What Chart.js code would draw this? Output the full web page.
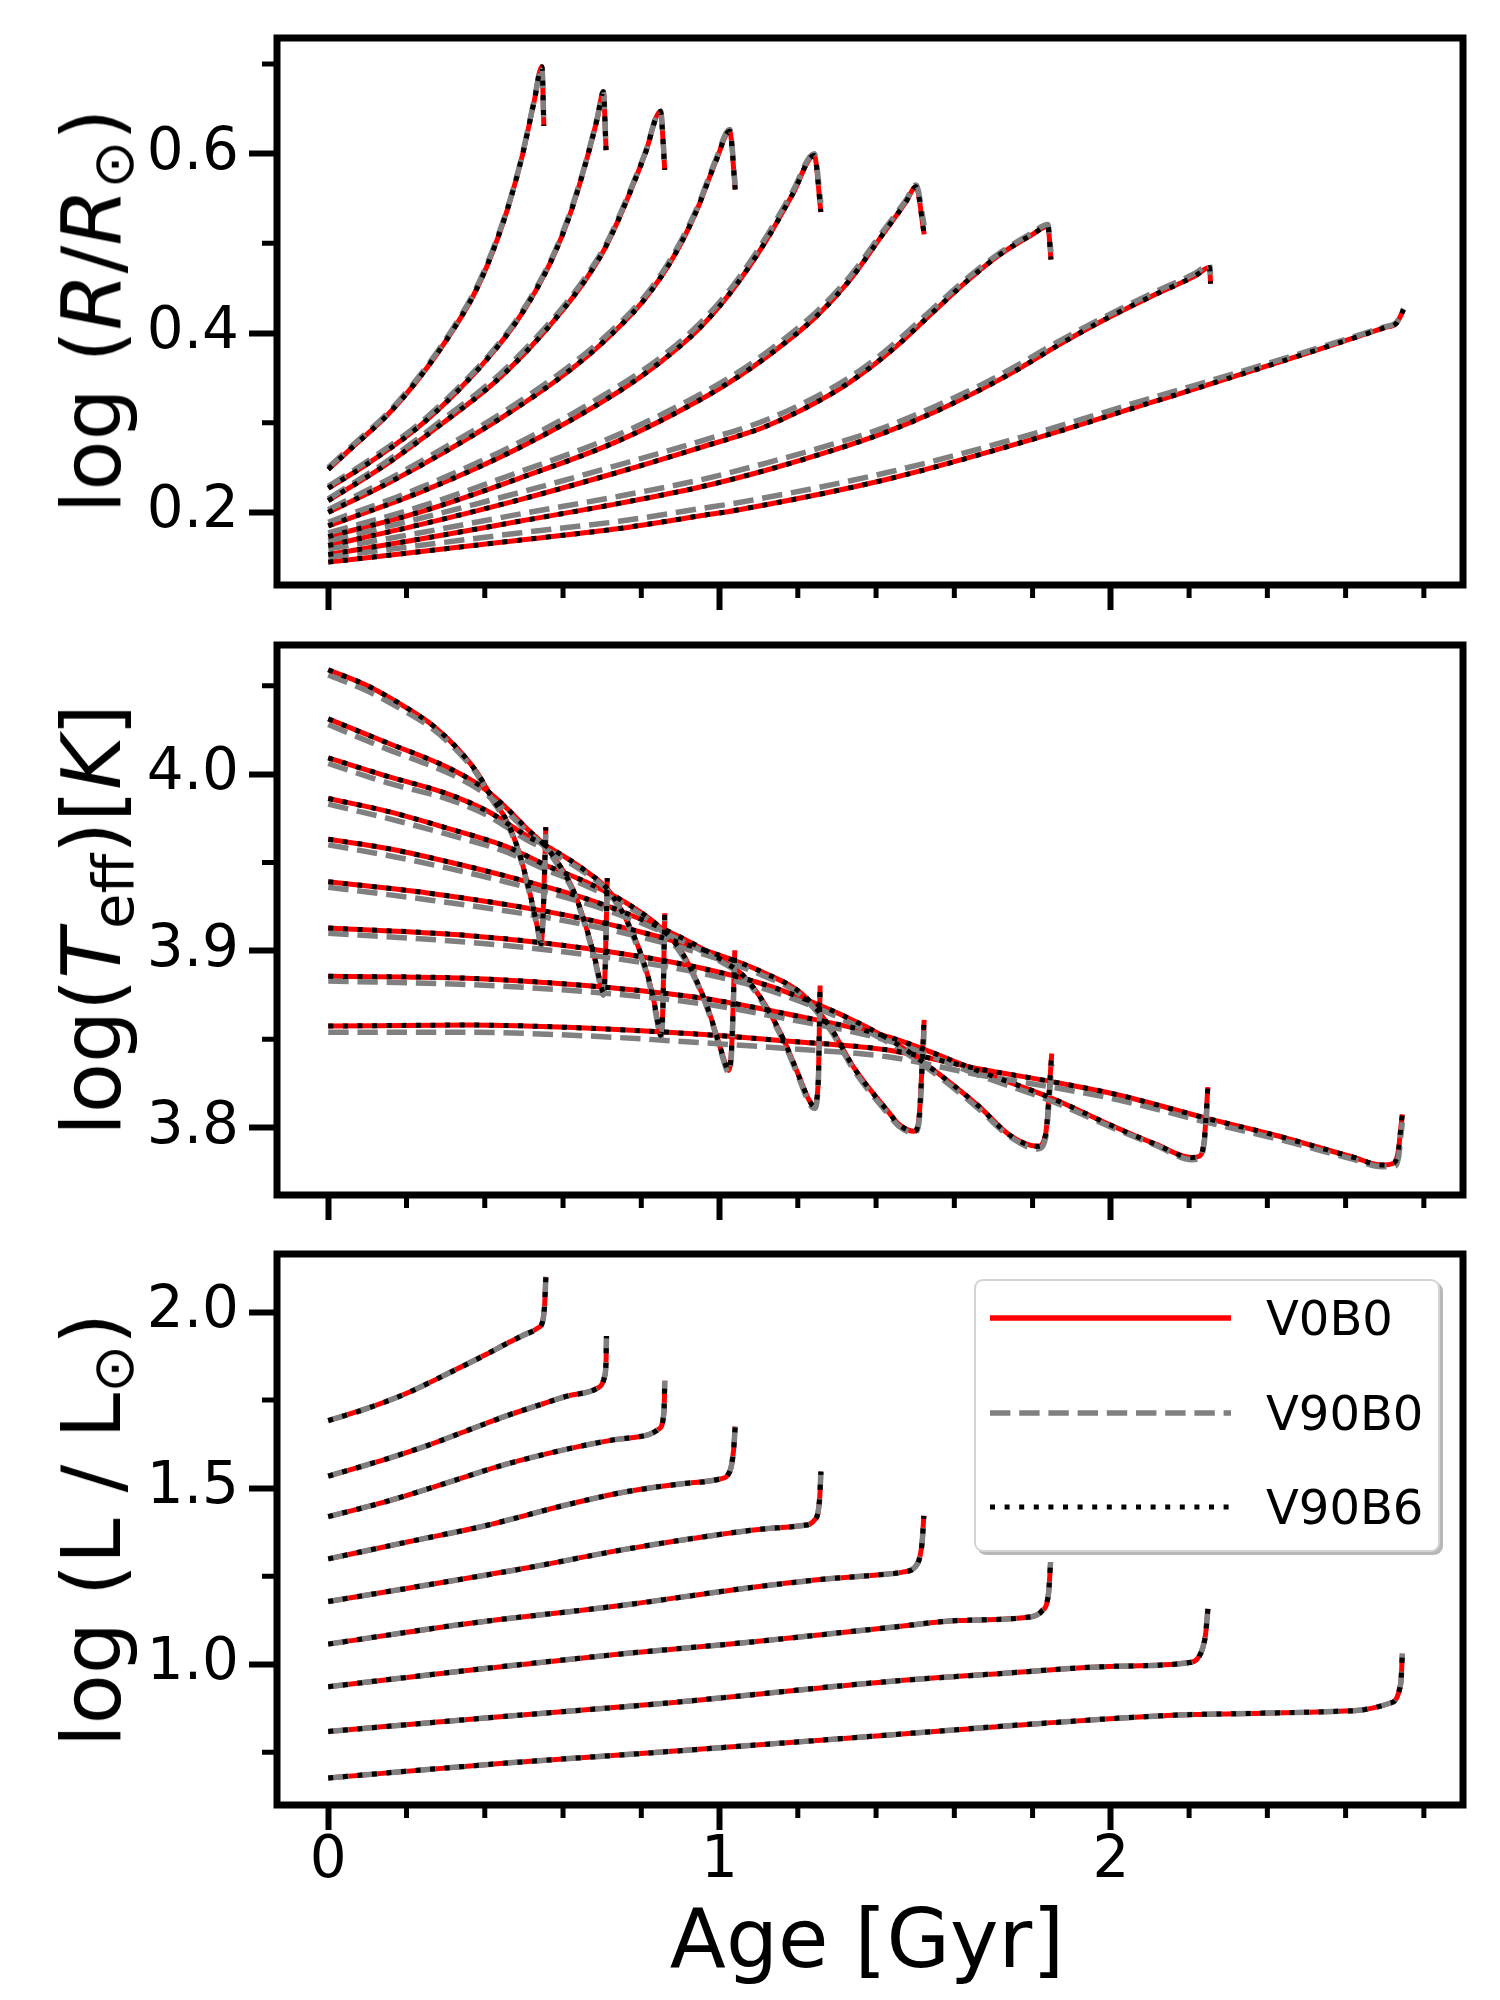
<!DOCTYPE html>
<html>
<head>
<meta charset="utf-8">
<script src="https://cdn.jsdelivr.net/npm/chart.js@4.4.1/dist/chart.umd.min.js"></script>
<style>
  body { margin: 0; background: #fff; width: 1500px; height: 2000px; position: relative; font-family: "DejaVu Sans", sans-serif; overflow: hidden; }
  canvas { position: absolute; left: 0; }
  .ylab { position: absolute; font-size: 82px; line-height: 82px; white-space: nowrap; transform: translate(-50%, -50%) rotate(-90deg); }
  .ylab sub { font-size: 0.7em; vertical-align: -0.22em; line-height: 0; }
  #xlab { position: absolute; left: 867px; top: 1898px; font-size: 82px; line-height: 82px; white-space: nowrap; transform: translateX(-50%); }
  #legend { position: absolute; left: 974px; top: 1279px; width: 466px; height: 273px; box-sizing: border-box;
            border: 2px solid #d4d4d4; border-radius: 9px; background: #fff; box-shadow: 3px 3px 0 #b8b8b8; }
  #legend .row { position: absolute; left: 0; height: 48px; width: 100%; }
  #legend svg { position: absolute; left: 14px; top: 14px; }
  #legend span { position: absolute; left: 290px; top: 0; font-size: 48px; line-height: 48px; }
</style>
</head>
<body>
<canvas id="radiusChart" width="1500" height="640" style="top:0px"></canvas>
<canvas id="teffChart" width="1500" height="600" style="top:640px"></canvas>
<canvas id="lumChart" width="1500" height="760" style="top:1240px"></canvas>

<div class="ylab" style="left:92px; top:311px">log (<i>R</i>/<i>R</i><sub>⊙</sub>)</div>
<div class="ylab" style="left:92px; top:920px">log(<i>T</i><sub>eff</sub>)[<i>K</i>]</div>
<div class="ylab" style="left:92px; top:1530px">log (L / L<sub>⊙</sub>)</div>
<div id="xlab">Age [Gyr]</div>

<div id="legend">
  <div class="row" style="top:13px">
    <svg width="241" height="20"><line x1="0" y1="10" x2="241" y2="10" stroke="#ff0000" stroke-width="5.5"/></svg>
    <span>V0B0</span>
  </div>
  <div class="row" style="top:108px">
    <svg width="241" height="20"><line x1="0" y1="10" x2="241" y2="10" stroke="#808080" stroke-width="5.5" stroke-dasharray="20.4 8.8"/></svg>
    <span>V90B0</span>
  </div>
  <div class="row" style="top:202px">
    <svg width="241" height="20"><line x1="0" y1="10" x2="241" y2="10" stroke="#000000" stroke-width="5" stroke-dasharray="5 9.6"/></svg>
    <span>V90B6</span>
  </div>
</div>

<script>
// axis ticks
const xMajor = [0, 1, 2];
const xMinor = [0.2, 0.4, 0.6, 0.8, 1.2, 1.4, 1.6, 1.8, 2.2, 2.4, 2.6, 2.8];
const radiusMajor = [0.2, 0.4, 0.6];
const radiusMinor = [0.3, 0.5, 0.7];
const teffMajor = [3.8, 3.9, 4.0];
const teffMinor = [3.85, 3.95, 4.05];
const lumMajor = [1.0, 1.5, 2.0];
const lumMinor = [0.75, 1.25, 1.75];

// log R/Rsun, one row per track (highest mass first)
const radiusAge = [
  [0, 0.06, 0.15, 0.22, 0.28, 0.33, 0.37, 0.405, 0.435, 0.465, 0.496, 0.526, 0.546, 0.551],
  [0, 0.10, 0.23, 0.33, 0.42, 0.48, 0.53, 0.58, 0.62, 0.657, 0.688, 0.703, 0.710],
  [0, 0.15, 0.30, 0.42, 0.51, 0.60, 0.66, 0.71, 0.76, 0.81, 0.849, 0.860],
  [0, 0.15, 0.30, 0.455, 0.607, 0.708, 0.809, 0.880, 0.940, 0.991, 1.026, 1.040],
  [0, 0.232, 0.488, 0.743, 0.85, 0.948, 1.033, 1.119, 1.187, 1.242, 1.259],
  [0, 0.232, 0.488, 0.743, 0.948, 1.05, 1.119, 1.246, 1.331, 1.417, 1.476, 1.502, 1.523],
  [0, 0.232, 0.488, 0.743, 0.948, 1.119, 1.289, 1.374, 1.459, 1.545, 1.630, 1.715, 1.800, 1.839, 1.847],
  [0, 0.232, 0.488, 0.743, 0.948, 1.119, 1.289, 1.417, 1.545, 1.672, 1.757, 1.868, 1.971, 2.099, 2.217, 2.252, 2.255],
  [0, 0.232, 0.488, 0.743, 0.948, 1.05, 1.434, 1.812, 2.099, 2.217, 2.52, 2.70, 2.73, 2.748]
];
const radiusV0B0 = [
  [0.248, 0.272, 0.308, 0.343, 0.378, 0.411, 0.441, 0.474, 0.508, 0.548, 0.598, 0.658, 0.697, 0.631],
  [0.227, 0.254, 0.295, 0.335, 0.378, 0.412, 0.447, 0.490, 0.535, 0.588, 0.640, 0.669, 0.604],
  [0.213, 0.254, 0.302, 0.343, 0.381, 0.426, 0.461, 0.497, 0.545, 0.600, 0.647, 0.582],
  [0.200, 0.232, 0.268, 0.309, 0.355, 0.392, 0.438, 0.483, 0.535, 0.592, 0.625, 0.560],
  [0.185, 0.222, 0.272, 0.335, 0.368, 0.405, 0.448, 0.503, 0.555, 0.598, 0.535],
  [0.173, 0.200, 0.238, 0.280, 0.325, 0.352, 0.373, 0.418, 0.458, 0.510, 0.546, 0.563, 0.510],
  [0.163, 0.186, 0.214, 0.245, 0.272, 0.296, 0.333, 0.358, 0.388, 0.423, 0.457, 0.487, 0.510, 0.519, 0.482],
  [0.153, 0.170, 0.190, 0.210, 0.228, 0.247, 0.269, 0.288, 0.311, 0.338, 0.358, 0.387, 0.412, 0.440, 0.464, 0.473, 0.455],
  [0.1445, 0.156, 0.169, 0.182, 0.196, 0.203, 0.2375, 0.283, 0.322, 0.338, 0.380, 0.406, 0.411, 0.426]
];
const radiusV90B0 = [
  [0.250, 0.274, 0.310, 0.345, 0.380, 0.413, 0.443, 0.476, 0.510, 0.549, 0.599, 0.659, 0.697, 0.631],
  [0.229, 0.257, 0.298, 0.338, 0.380, 0.414, 0.449, 0.492, 0.537, 0.589, 0.641, 0.669, 0.604],
  [0.215, 0.257, 0.306, 0.347, 0.385, 0.429, 0.464, 0.499, 0.547, 0.601, 0.648, 0.585],
  [0.203, 0.236, 0.273, 0.314, 0.360, 0.396, 0.441, 0.486, 0.537, 0.594, 0.627, 0.565],
  [0.189, 0.227, 0.278, 0.341, 0.373, 0.410, 0.452, 0.507, 0.558, 0.600, 0.545],
  [0.177, 0.206, 0.245, 0.287, 0.331, 0.357, 0.378, 0.423, 0.462, 0.513, 0.548, 0.565, 0.520],
  [0.168, 0.193, 0.222, 0.253, 0.279, 0.303, 0.339, 0.363, 0.393, 0.427, 0.460, 0.489, 0.512, 0.521, 0.490],
  [0.159, 0.177, 0.198, 0.218, 0.236, 0.255, 0.276, 0.294, 0.317, 0.343, 0.363, 0.391, 0.415, 0.443, 0.467, 0.476, 0.465],
  [0.150, 0.163, 0.177, 0.190, 0.204, 0.211, 0.245, 0.289, 0.327, 0.342, 0.382, 0.407, 0.412, 0.427]
];

// log Teff
const teffAge = [
  [0, 0.10, 0.20, 0.27, 0.33, 0.38, 0.42, 0.455, 0.486, 0.516, 0.536, 0.544, 0.549, 0.556],
  [0, 0.152, 0.303, 0.394, 0.455, 0.506, 0.556, 0.597, 0.627, 0.657, 0.683, 0.698, 0.703, 0.708, 0.713],
  [0, 0.152, 0.303, 0.404, 0.506, 0.577, 0.657, 0.718, 0.758, 0.799, 0.829, 0.845, 0.849, 0.855, 0.860],
  [0, 0.152, 0.303, 0.455, 0.556, 0.657, 0.758, 0.839, 0.900, 0.940, 0.971, 1.001, 1.016, 1.023, 1.031, 1.039],
  [0, 0.152, 0.303, 0.455, 0.657, 0.809, 0.910, 1.011, 1.062, 1.112, 1.163, 1.203, 1.229, 1.242, 1.252, 1.257],
  [0, 0.253, 0.556, 0.758, 0.961, 1.112, 1.213, 1.284, 1.345, 1.434, 1.458, 1.497, 1.509, 1.523],
  [0, 0.354, 0.657, 0.961, 1.163, 1.434, 1.530, 1.661, 1.742, 1.813, 1.833, 1.849],
  [0, 0.354, 0.657, 0.961, 1.163, 1.434, 1.672, 1.849, 2.015, 2.116, 2.207, 2.227, 2.239, 2.248],
  [0, 0.354, 0.657, 0.961, 1.163, 1.434, 1.661, 1.849, 2.015, 2.248, 2.420, 2.622, 2.692, 2.723, 2.735, 2.741, 2.745]
];
const teffV0B0 = [
  [4.059, 4.050, 4.0375, 4.027, 4.0145, 4.001, 3.986, 3.974, 3.957, 3.932, 3.912, 3.904, 3.920, 3.970],
  [4.0312, 4.0176, 4.0040, 3.9925, 3.9810, 3.9695, 3.9590, 3.9464, 3.9339, 3.9150, 3.8941, 3.8795, 3.8764, 3.8920, 3.9412],
  [4.0092, 3.9987, 3.9890, 3.9794, 3.9653, 3.9569, 3.9454, 3.9339, 3.9192, 3.8983, 3.8753, 3.8564, 3.8524, 3.8669, 3.9213],
  [3.9862, 3.9789, 3.9695, 3.9590, 3.9485, 3.9391, 3.9276, 3.9150, 3.9004, 3.8837, 3.8669, 3.8460, 3.8355, 3.8324, 3.8460, 3.9004],
  [3.9632, 3.9579, 3.9506, 3.9423, 3.9297, 3.9171, 3.9067, 3.8941, 3.8857, 3.8711, 3.8502, 3.8292, 3.8156, 3.8121, 3.8251, 3.8805],
  [3.9391, 3.9328, 3.9224, 3.9130, 3.9004, 3.8878, 3.8753, 3.8564, 3.8334, 3.8083, 3.802, 3.798, 3.804, 3.861],
  [3.9130, 3.9088, 3.9015, 3.8899, 3.8774, 3.850, 3.8355, 3.8125, 3.7958, 3.7895, 3.796, 3.842],
  [3.8857, 3.8846, 3.8804, 3.8731, 3.8648, 3.8512, 3.8313, 3.8167, 3.800, 3.7906, 3.7832, 3.784, 3.7937, 3.823],
  [3.8575, 3.8581, 3.8564, 3.8527, 3.8492, 3.8439, 3.8334, 3.8261, 3.8188, 3.8052, 3.7958, 3.7832, 3.7790, 3.780, 3.7874, 3.800, 3.8076]
];
const teffV90B0 = [
  [4.056, 4.047, 4.035, 4.025, 4.013, 4.000, 3.985, 3.973, 3.956, 3.931, 3.911, 3.903, 3.918, 3.966],
  [4.028, 4.014, 4.001, 3.990, 3.979, 3.968, 3.958, 3.945, 3.933, 3.914, 3.893, 3.878, 3.875, 3.890, 3.938],
  [4.006, 3.995, 3.986, 3.977, 3.963, 3.955, 3.944, 3.933, 3.918, 3.897, 3.874, 3.855, 3.851, 3.865, 3.918],
  [3.983, 3.975, 3.966, 3.956, 3.946, 3.937, 3.926, 3.914, 3.899, 3.883, 3.866, 3.845, 3.834, 3.831, 3.844, 3.896],
  [3.960, 3.954, 3.947, 3.939, 3.927, 3.915, 3.905, 3.893, 3.885, 3.870, 3.849, 3.828, 3.814, 3.811, 3.823, 3.876],
  [3.936, 3.929, 3.919, 3.910, 3.898, 3.886, 3.874, 3.855, 3.832, 3.807, 3.801, 3.797, 3.802, 3.855],
  [3.910, 3.905, 3.898, 3.887, 3.875, 3.848, 3.834, 3.811, 3.795, 3.788, 3.794, 3.836],
  [3.883, 3.881, 3.877, 3.870, 3.862, 3.849, 3.829, 3.815, 3.799, 3.790, 3.782, 3.783, 3.792, 3.818],
  [3.854, 3.854, 3.852, 3.848, 3.845, 3.840, 3.830, 3.823, 3.816, 3.803, 3.794, 3.782, 3.778, 3.778, 3.783, 3.795, 3.803]
];

// log L/Lsun (the three models overlap within a line width)
const lumAge = [
  [0, 0.101, 0.202, 0.303, 0.404, 0.455, 0.496, 0.536, 0.548, 0.553, 0.556],
  [0, 0.152, 0.253, 0.354, 0.455, 0.556, 0.617, 0.688, 0.706, 0.710, 0.711],
  [0, 0.152, 0.303, 0.455, 0.607, 0.728, 0.819, 0.845, 0.858, 0.860],
  [0, 0.202, 0.404, 0.607, 0.758, 0.910, 1.001, 1.026, 1.036, 1.040],
  [0, 0.253, 0.506, 0.758, 0.961, 1.112, 1.213, 1.244, 1.256, 1.259],
  [0, 0.354, 0.758, 1.062, 1.264, 1.408, 1.470, 1.499, 1.512, 1.518, 1.522],
  [0, 0.354, 0.758, 1.062, 1.434, 1.611, 1.793, 1.823, 1.841, 1.846],
  [0, 0.455, 0.860, 1.434, 1.712, 2.015, 2.197, 2.227, 2.242, 2.248],
  [0, 0.455, 0.860, 1.434, 1.813, 2.217, 2.622, 2.713, 2.741, 2.745]
];
const lumV0B0 = [
  [1.692, 1.727, 1.770, 1.824, 1.880, 1.910, 1.933, 1.955, 1.974, 2.021, 2.100],
  [1.534, 1.584, 1.621, 1.663, 1.705, 1.742, 1.763, 1.784, 1.816, 1.863, 1.932],
  [1.419, 1.463, 1.515, 1.568, 1.610, 1.637, 1.652, 1.668, 1.716, 1.805],
  [1.299, 1.347, 1.394, 1.452, 1.489, 1.513, 1.526, 1.547, 1.610, 1.675],
  [1.178, 1.225, 1.273, 1.326, 1.362, 1.384, 1.394, 1.411, 1.473, 1.547],
  [1.057, 1.115, 1.168, 1.215, 1.241, 1.254, 1.262, 1.275, 1.305, 1.350, 1.421],
  [0.936, 0.982, 1.030, 1.061, 1.104, 1.124, 1.134, 1.150, 1.203, 1.290],
  [0.809, 0.852, 0.889, 0.951, 0.973, 0.994, 1.004, 1.025, 1.084, 1.157],
  [0.677, 0.719, 0.751, 0.799, 0.831, 0.857, 0.868, 0.889, 0.946, 1.030]
];

const RED = '#ff0000', GRAY = '#808080', BLACK = '#000000';

function trackSets(ages, red, gray, dotted) {
  const sets = [];
  ages.forEach((a, k) => {
    const pts = vals => a.map((x, i) => ({ x: x, y: vals[k][i] }));
    const base = { pointRadius: 0, fill: false, cubicInterpolationMode: 'monotone',
                   borderCapStyle: 'butt', borderJoinStyle: 'round' };
    sets.push({ ...base, label: 'V0B0', data: pts(red), borderColor: RED, borderWidth: 5, order: 3 });
    sets.push({ ...base, label: 'V90B0', data: pts(gray), borderColor: GRAY, borderWidth: 5.5, borderDash: [20.4, 8.8], order: 2 });
    sets.push({ ...base, label: 'V90B6', data: pts(dotted), borderColor: BLACK, borderWidth: 5, borderDash: [5, 9.6], order: 1 });
  });
  return sets;
}

// box round the axes and the short minor ticks
const frameAndMinorTicks = {
  id: 'frameAndMinorTicks',
  afterDraw(chart, args, opts) {
    const { ctx, chartArea: a, scales: { x, y } } = chart;
    ctx.save();
    ctx.strokeStyle = '#000';
    ctx.lineWidth = 5;
    ctx.beginPath();
    opts.xMinor.forEach(v => {
      const px = x.getPixelForValue(v);
      ctx.moveTo(px, a.bottom); ctx.lineTo(px, a.bottom + 13);
    });
    opts.yMinor.forEach(v => {
      const py = y.getPixelForValue(v);
      ctx.moveTo(a.left, py); ctx.lineTo(a.left - 15, py);
    });
    ctx.stroke();
    ctx.lineWidth = 7;
    ctx.strokeRect(a.left, a.top, a.right - a.left, a.bottom - a.top);
    ctx.restore();
  }
};

function makePanel(id, datasets, yMin, yMax, yMajor, yMinor, padTop, xAxisHeight, showXLabels) {
  const tickFont = { family: 'DejaVu Sans', size: 58, lineHeight: 1 };
  new Chart(document.getElementById(id), {
    type: 'line',
    data: { datasets: datasets },
    options: {
      responsive: false,
      animation: false,
      devicePixelRatio: 1,
      layout: { padding: { left: 0, right: 37, top: padTop, bottom: 0 } },
      plugins: {
        legend: { display: false },
        tooltip: { enabled: false },
        frameAndMinorTicks: { xMinor: xMinor, yMinor: yMinor }
      },
      scales: {
        x: {
          type: 'linear', min: -0.131, max: 2.9,
          afterBuildTicks: s => { s.ticks = xMajor.map(v => ({ value: v })); },
          afterFit: s => { s.height = xAxisHeight; s.paddingLeft = 0; s.paddingRight = 0; },
          ticks: { color: '#000', font: tickFont, padding: 3, maxRotation: 0,
                   callback: v => showXLabels ? String(v) : '' },
          grid: { drawOnChartArea: false, tickLength: 25, tickWidth: 6, tickColor: '#000' },
          border: { display: false }
        },
        y: {
          type: 'linear', min: yMin, max: yMax,
          afterBuildTicks: s => { s.ticks = yMajor.map(v => ({ value: v })); },
          afterFit: s => { s.width = 277; s.paddingTop = 0; s.paddingBottom = 0; },
          ticks: { color: '#000', font: tickFont, padding: 10, callback: v => v.toFixed(1) },
          grid: { drawOnChartArea: false, tickLength: 28, tickWidth: 6, tickColor: '#000' },
          border: { display: false }
        }
      }
    },
    plugins: [frameAndMinorTicks]
  });
}

makePanel('radiusChart', trackSets(radiusAge, radiusV0B0, radiusV90B0, radiusV0B0),
          0.119, 0.729, radiusMajor, radiusMinor, 38, 55, false);
makePanel('teffChart', trackSets(teffAge, teffV0B0, teffV90B0, teffV0B0),
          3.762, 4.073, teffMajor, teffMinor, 5, 45, false);
makePanel('lumChart', trackSets(lumAge, lumV0B0, lumV0B0, lumV0B0),
          0.600, 2.165, lumMajor, lumMinor, 14, 195, true);
</script>
</body>
</html>
